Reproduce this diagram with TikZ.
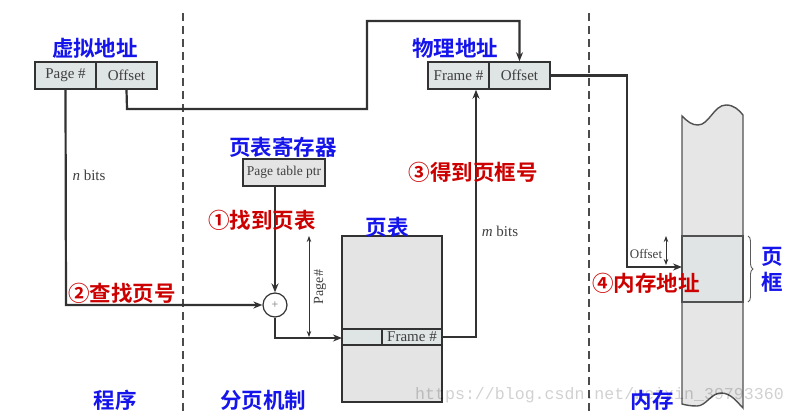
\documentclass[tikz,border=0pt]{standalone}
\usepackage{fontspec}
\setmainfont{Liberation Serif}
\newfontfamily\cjk{Noto Sans CJK SC}[UprightFont=* Bold, BoldFont=* Black]
\newfontfamily\wmfont{Liberation Mono}
\usetikzlibrary{arrows.meta,decorations.pathreplacing}
\definecolor{lnc}{RGB}{50,50,50}
\definecolor{cellc}{RGB}{223,228,228}
\definecolor{ptfill}{RGB}{228,228,228}
\definecolor{memfill}{RGB}{230,230,230}
\definecolor{frfill}{RGB}{224,228,228}
\definecolor{cnblue}{RGB}{20,20,235}
\definecolor{cnred}{RGB}{205,0,0}
\definecolor{dashc}{RGB}{75,75,75}
\tikzset{
  cell/.style={draw=lnc, line width=1.5pt, fill=cellc, inner sep=0pt, minimum height=27, text=black!75},
  conn/.style={draw=lnc, line width=2.2pt},
  tip/.style={-{Stealth[length=9,width=7]}},
  dimarr/.style={draw=lnc, line width=0.8pt, {Stealth[length=6,width=4.5]}-{Stealth[length=6,width=4.5]}},
  divider/.style={draw=dashc, line width=2pt, dash pattern=on 8pt off 5pt},
  bluelbl/.style={font=\cjk\fontsize{21.5}{24}\selectfont, text=cnblue, inner sep=0pt},
  redlbl/.style={font=\cjk\fontsize{21.5}{24}\selectfont, text=cnred, inner sep=0pt},
  small/.style={font=\fontsize{15}{17}\selectfont, text=black!75, inner sep=0pt},
}
\begin{document}
\begin{tikzpicture}[x=1pt,y=-1pt]
\useasboundingbox (0,0) rectangle (796,415);
\fill[white] (0,0) rectangle (796,415);

% dividers
\draw[divider] (183,13) -- (183,415);
\draw[divider] (589,13) -- (589,415);

% virtual address
\node[cell, minimum width=61, font=\fontsize{15}{17}\selectfont] (vapage) at (65.5,75.5) {Page \#};
\node[cell, minimum width=61, font=\fontsize{15}{17}\selectfont] (vaoff) at (126.5,75.5) {Offset};
\node[bluelbl] (valbl) at (95,48) {虚拟地址};

% physical address
\node[cell, minimum width=61, font=\fontsize{15}{17}\selectfont] (paframe) at (458.5,75.5) {Frame \#};
\node[cell, minimum width=61, font=\fontsize{15}{17}\selectfont] (paoff) at (519.5,75.5) {Offset};
\node[bluelbl] (palbl) at (455,48) {物理地址};

% page table ptr
\node[cell, minimum width=82, fill=ptfill, font=\fontsize{13.5}{15}\selectfont] (ptr) at (284,172.5) {Page table ptr};
\node[bluelbl] (ptrlbl) at (283,147) {页表寄存器};

% adder
\node[circle, draw=lnc, line width=1.2pt, fill=white, minimum size=24, inner sep=0pt, text=black!55, font=\fontsize{12}{12}\selectfont] (add) at (275,305) {+};

% page table
\node[draw=lnc, line width=1.5pt, fill=ptfill, minimum width=100, minimum height=166, inner sep=0pt] (pt) at (392,319) {};
\node[cell, minimum width=40, minimum height=16] (rowl) at (362,337) {};
\node[cell, minimum width=60, minimum height=16, font=\fontsize{15}{16}\selectfont] (rowr) at (412,337) {Frame \#};
\node[bluelbl] (ptlbl) at (387,227) {页表};

% memory
\draw[draw=lnc!85, line width=1.4pt, fill=memfill]
  (682,116) .. controls (688,122) and (692,125) .. (698,125)
  .. controls (709,125) and (714,105) .. (726,105)
  .. controls (734,105) and (739,110) .. (743,115)
  -- (743,408)
  .. controls (737,402) and (731,393) .. (721,393)
  .. controls (711,393) and (706,406) .. (697,406)
  .. controls (690,406) and (686,405) .. (682,404) -- cycle;
\node[draw=lnc!85, line width=1.4pt, fill=frfill, minimum width=61, minimum height=66, inner sep=0pt] (mframe) at (712.5,269) {};
\coordinate (memin) at (682,267);
\coordinate (mtop) at (666,236);
\coordinate (moff) at (666,265);

% connectors
\coordinate (nb) at (66,305);
\draw[conn, tip] (vapage.south) -- (nb) -- (add.west);
\coordinate (o1) at (127,109);
\coordinate (o2) at (367,109);
\coordinate (o3) at (367,21);
\coordinate (o4) at (519.5,21);
\draw[conn, tip] (vaoff.south) -- (o1) -- (o2) -- (o3) -- (o4) -- (paoff.north);
\draw[conn, tip] (ptr.south -| add) -- (add.north);
\coordinate (a1) at (275,338);
\coordinate (a2) at (342,338);
\draw[conn, tip] (add.south) -- (a1) -- (a2);
\coordinate (f1) at (476,337);
\draw[conn, tip] (rowr.east) -- (f1) -- (f1 |- paframe.south);
\coordinate (p1) at (627,75.5);
\coordinate (p2) at (627,267);
\draw[conn, tip] (paoff.east) -- (p1) -- (p2) -- (memin);

% dimension arrows
\coordinate (d1) at (309,236);
\coordinate (d2) at (309,337);
\draw[dimarr] (d1) -- (d2);
\draw[dimarr] (mtop) -- (moff);
\node[small, rotate=90, font=\fontsize{14}{15}\selectfont] (pglbl) at (320,287) {Page\#};
\node[small, font=\fontsize{13}{14}\selectfont] (offlbl) at (646,254) {Offset};

% brace
\coordinate (b1) at (748,236);
\coordinate (b2) at (748,302);
\draw[draw=lnc!80, line width=0.9pt, decorate, decoration={brace, amplitude=5pt}] (b1) -- (b2);

% bits labels
\node[small] (nbits) at (89,175) {\textit{n} bits};
\node[small] (mbits) at (500,231) {\textit{m} bits};

% red step labels
\node[redlbl] (s1) at (262,220) {①找到页表};
\node[redlbl] (s2) at (122,293) {②查找页号};
\node[redlbl] (s3) at (473,172) {③得到页框号};
\node[redlbl] (s4) at (646,283) {④内存地址};

% watermark (over the drawing)
\node[font=\wmfont\fontsize{16.6}{18}\selectfont, text=black, text opacity=0.18, inner sep=0pt, anchor=west] (wm) at (415,395) {https://blog.csdn.net/weixin\_39793360};

% blue region labels
\node[bluelbl, align=center] (frlbl) at (772,270) {页\\[2pt]框};
\node[bluelbl] (prog) at (115,400) {程序};
\node[bluelbl] (pg) at (263,400) {分页机制};
\node[bluelbl] (mem) at (652,400) {内存};
\end{tikzpicture}
\end{document}
